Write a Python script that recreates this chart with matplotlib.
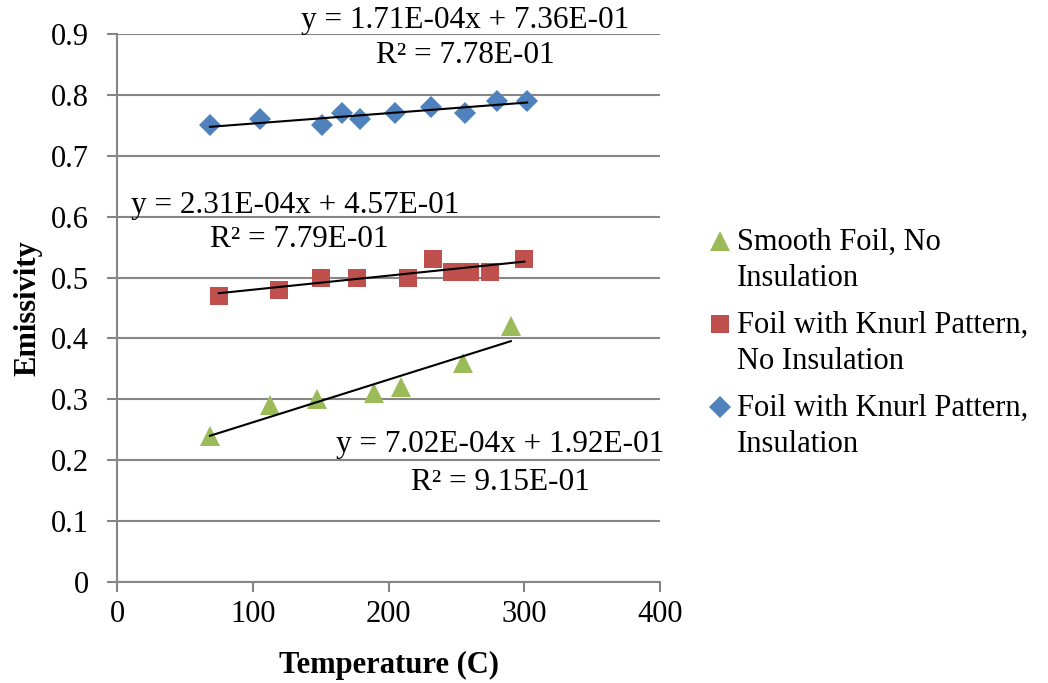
import numpy as np
import matplotlib.pyplot as plt
from matplotlib.legend_handler import HandlerLine2D

plt.rcParams.update({
    "font.family": "Liberation Serif",
    "font.size": 22,
})

# Smooth Foil, No Insulation
temp_smooth = [68.5, 113, 147, 189, 209, 255, 290]
emis_smooth = [0.24, 0.29, 0.30, 0.31, 0.32, 0.36, 0.42]

# Foil with Knurl Pattern, No Insulation
temp_knurl = [75, 119, 150, 177, 214, 233, 247, 260, 275, 300]
emis_knurl = [0.47, 0.48, 0.50, 0.50, 0.50, 0.53, 0.51, 0.51, 0.51, 0.53]

# Foil with Knurl Pattern, Insulation
temp_insul = [68.5, 105, 151, 166, 179, 205, 231, 256, 280, 302]
emis_insul = [0.75, 0.76, 0.75, 0.77, 0.76, 0.77, 0.78, 0.77, 0.79, 0.79]

# linear trendlines (slope, intercept) as reported
fit_smooth = (7.02e-4, 1.92e-1)
fit_knurl = (2.31e-4, 4.57e-1)
fit_insul = (1.71e-4, 7.36e-1)

labels = ["Smooth Foil, No\nInsulation",
          "Foil with Knurl Pattern,\nNo Insulation",
          "Foil with Knurl Pattern,\nInsulation"]

LSPACE = 1.3


class TopLineHandler(HandlerLine2D):
    # put the legend marker next to the first line of a two-line label
    def create_artists(self, legend, orig_handle, xdescent, ydescent,
                       width, height, fontsize, trans):
        arts = super().create_artists(legend, orig_handle, xdescent, ydescent,
                                      width, height, fontsize, trans)
        for a in arts:
            a.set_ydata(np.asarray(a.get_ydata()) + 0.5 * LSPACE * fontsize)
        return arts


fig = plt.figure(figsize=(10.48, 6.83), dpi=100)
ax = fig.add_axes([0.1116, 0.148, 0.5184, 0.802])

grid_c = "#868686"
ax.set_xlim(0, 400)
ax.set_ylim(0, 0.9)
ax.set_xticks(np.arange(0, 401, 100))
ax.set_yticks(np.round(np.arange(0, 0.91, 0.1), 1))
ax.set_yticklabels(["0"] + ["%.1f" % v for v in np.arange(0.1, 0.91, 0.1)])
ax.grid(axis="y", color=grid_c, linewidth=1.5)
ax.set_axisbelow(True)
for s in ["top", "right"]:
    ax.spines[s].set_visible(False)
for s in ["left", "bottom"]:
    ax.spines[s].set_color(grid_c)
    ax.spines[s].set_linewidth(1.5)
ax.tick_params(direction="out", color=grid_c, width=1.5, length=7)
ax.tick_params(axis="x", pad=6)
ax.tick_params(axis="y", pad=13)

series = [
    (temp_smooth, emis_smooth, fit_smooth, "^", "#9BBB59", 15),
    (temp_knurl, emis_knurl, fit_knurl, "s", "#C0504D", 13),
    (temp_insul, emis_insul, fit_insul, "D", "#4F81BD", 11),
]
handles = []
for (xs, ys, (m, b), mk, col, ms) in series:
    h, = ax.plot(xs, ys, linestyle="none", marker=mk, color=col,
                 markersize=ms, markeredgewidth=0, zorder=3)
    handles.append(h)
    xx = np.array([min(xs), max(xs)])
    ax.plot(xx, m * xx + b, color="black", linewidth=1.5, zorder=4)

txt = dict(ha="center", va="center", clip_on=False, fontsize=22.5)
ax.text(256.5, 0.923, "y = 1.71E-04x + 7.36E-01", **txt)
ax.text(256.5, 0.865, "R² = 7.78E-01", **txt)
ax.text(131, 0.619, "y = 2.31E-04x + 4.57E-01", **txt)
ax.text(134, 0.562, "R² = 7.79E-01", **txt)
ax.text(282, 0.225, "y = 7.02E-04x + 1.92E-01", **txt)
ax.text(282, 0.164, "R² = 9.15E-01", **txt)

ax.set_xlabel("Temperature (C)", fontweight="bold", labelpad=16)
ax.set_ylabel("Emissivity", fontweight="bold", labelpad=6)

leg = fig.legend(handles, labels, loc="upper left", bbox_to_anchor=(0.664, 0.684),
                 frameon=False, handlelength=0.8, handletextpad=0.15,
                 labelspacing=0.6, borderaxespad=0,
                 handler_map={h: TopLineHandler() for h in handles})
for t in leg.get_texts():
    t.set_linespacing(LSPACE)

plt.savefig("out.png", dpi=100)
